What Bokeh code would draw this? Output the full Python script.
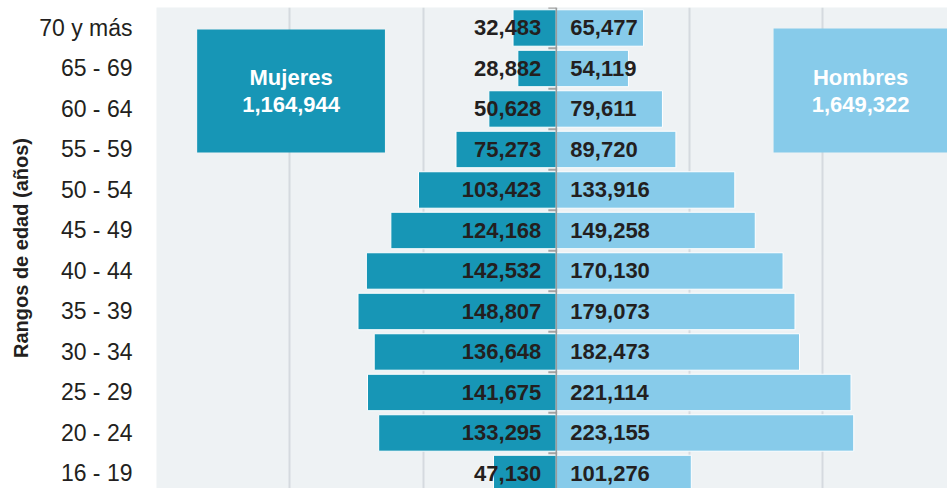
from math import pi

from bokeh.plotting import figure
from bokeh.models import Range1d, FixedTicker, ColumnDataSource, Label, BoxAnnotation, Span
from bokeh.core.properties import value
from bokeh.embed import file_html
from bokeh.resources import INLINE

# ---- data ----
age_groups = ["16 - 19", "20 - 24", "25 - 29", "30 - 34", "35 - 39", "40 - 44",
              "45 - 49", "50 - 54", "55 - 59", "60 - 64", "65 - 69", "70 y más"]
mujeres = [47130, 133295, 141675, 136648, 148807, 142532,
           124168, 103423, 75273, 50628, 28882, 32483]
hombres = [101276, 223155, 221114, 182473, 179073, 170130,
           149258, 133916, 89720, 79611, 54119, 65477]
x_ticks = [-300000, -200000, -100000, 0, 100000, 200000, 300000]
series_names = ["Mujeres", "Hombres"]

# ---- styles ----
DARK = "#1796b6"
LIGHT = "#87cbea"
TEXT = "#231f20"
FONT = "Liberation Sans"

ypos = list(range(len(age_groups)))
src = ColumnDataSource(dict(
    y=ypos,
    muj_left=[-v for v in mujeres],
    hom=hombres,
    muj_lbl=[f"{v:,}" for v in mujeres],
    hom_lbl=[f"{v:,}" for v in hombres],
))

p = figure(width=947, height=488,
           x_range=Range1d(-300000, 293500), y_range=Range1d(-0.371, 11.506),
           output_backend="svg", toolbar_location=None,
           min_border_left=156, min_border_right=0, min_border_top=7, min_border_bottom=0,
           background_fill_color="#eef2f4", border_fill_color="white",
           outline_line_color=None)

# grid
p.xaxis.ticker = FixedTicker(ticks=x_ticks)
p.xgrid.ticker = FixedTicker(ticks=x_ticks)
p.xgrid.grid_line_color = "#d5dadf"
p.xgrid.grid_line_width = 2
p.ygrid.visible = False
p.xaxis.visible = False

# y axis
p.yaxis.ticker = FixedTicker(ticks=ypos)
p.yaxis.major_label_overrides = {i: lbl for i, lbl in zip(ypos, age_groups)}
p.yaxis.major_tick_line_color = None
p.yaxis.major_tick_out = 0
p.yaxis.major_tick_in = 0
p.yaxis.minor_tick_line_color = None
p.yaxis.minor_tick_out = 0
p.yaxis.axis_line_color = None
p.yaxis.major_label_standoff = 24
p.yaxis.major_label_text_font = FONT
p.yaxis.major_label_text_font_size = "23px"
p.yaxis.major_label_text_color = TEXT
p.yaxis.axis_label = "Rangos de edad (años)"
p.yaxis.axis_label_text_font = FONT
p.yaxis.axis_label_text_font_style = "bold"
p.yaxis.axis_label_text_font_size = "20px"
p.yaxis.axis_label_text_color = TEXT
p.yaxis.axis_label_standoff = 4

# bars
p.hbar(y="y", left="muj_left", right=0, height=0.9, source=src,
       fill_color=DARK, line_color="white", line_width=1)
p.hbar(y="y", left=0, right="hom", height=0.9, source=src,
       fill_color=LIGHT, line_color="white", line_width=1)

# centre axis with boundary ticks
p.add_layout(Span(location=0, dimension="height", line_color="#9b9b9b", line_width=1.5))
p.ray(x=0, y=[i + 0.5 for i in ypos], length=8, angle=pi, length_units="screen",
      line_color="#a3a3a3", line_width=2)

# value labels
for col, off, align in (("muj_lbl", -15, "right"), ("hom_lbl", 14, "left")):
    p.text(x=0, y="y", text=col, source=src, x_offset=off,
           text_align=align, text_baseline="middle",
           text_font=value(FONT), text_font_style="bold", text_font_size="22px",
           text_color=TEXT)

# legend boxes with totals
totals = [sum(mujeres), sum(hombres)]
boxes = [(-269500, -128600, 10.963, 7.926, DARK, -199000),
         (163000, 300000, 10.988, 7.926, LIGHT, 228300)]
for name, tot, (l, r, t, b, col, cx) in zip(series_names, totals, boxes):
    p.add_layout(BoxAnnotation(left=l, right=r, top=t, bottom=b,
                               fill_color=col, fill_alpha=1, line_alpha=0))
    for txt, yy in ((name, 9.785), (f"{tot:,}", 9.099)):
        p.add_layout(Label(x=cx, y=yy, text=txt, text_align="center",
                           text_baseline="middle", text_font=FONT,
                           text_font_style="bold", text_font_size="22px",
                           text_color="white"))

open("out.html", "w").write(file_html(p, INLINE))
